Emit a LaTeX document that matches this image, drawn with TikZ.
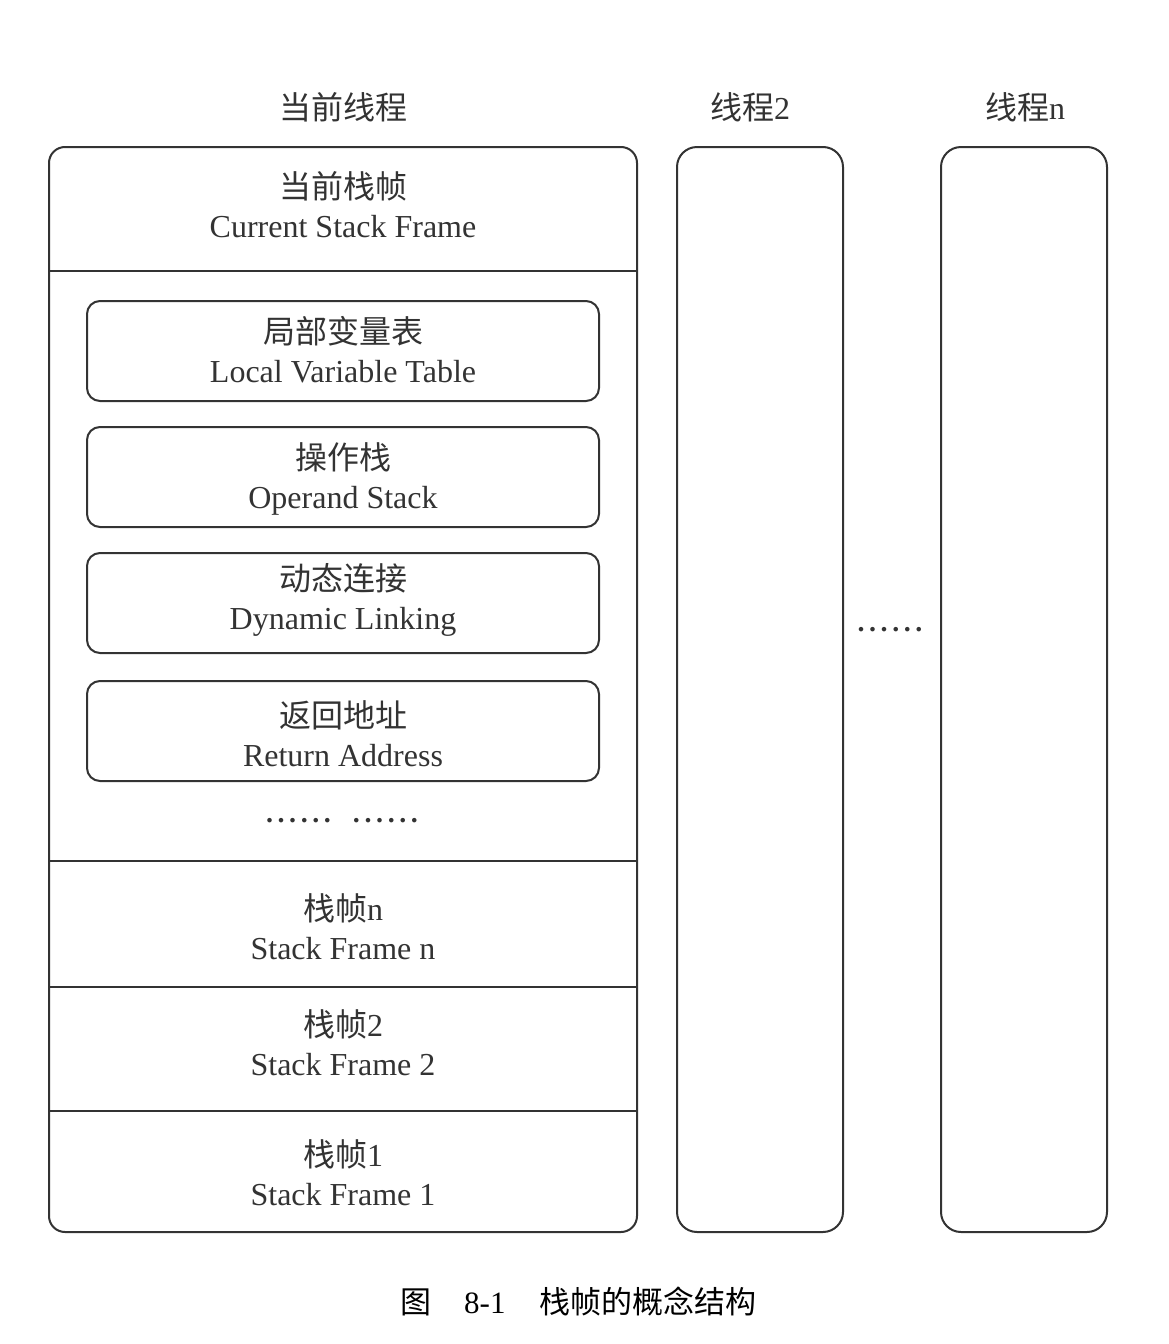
\documentclass[tikz,border=0pt]{standalone}
\usepackage{fontspec}
\setmainfont{Liberation Serif}
\newfontfamily\cjk{Noto Sans CJK SC}
\definecolor{ink}{HTML}{333333}
% a row of six spaced dots
\newcommand\sixdots{.\kern4.6pt.\kern4.6pt.\kern4.6pt.\kern4.6pt.\kern4.6pt.}
\begin{document}
\begin{tikzpicture}[x=1pt,y=-1pt,
  frame/.style={draw=ink,line width=2pt,rounded corners=16pt},
  inner/.style={draw=ink,line width=2pt,rounded corners=13pt},
  divider/.style={draw=ink,line width=2pt},
  label/.style={text=ink,align=center,font=\fontsize{32}{39}\selectfont,inner sep=0pt},
  title/.style={text=ink,font=\fontsize{32}{36}\selectfont,inner sep=0pt},
  dots/.style={text=ink,font=\fontsize{28}{30}\selectfont\bfseries,inner sep=0pt}]
\useasboundingbox (0,0) rectangle (1168,1344);
\fill[white] (0,0) rectangle (1168,1344);

% thread columns
\draw[frame] (49,147) rectangle (637,1232);
\draw[frame,rounded corners=20pt] (677,147) rectangle (843,1232);
\draw[frame,rounded corners=20pt] (941,147) rectangle (1107,1232);

% frame dividers of the current thread
\draw[divider] (49,271) -- (637,271);
\draw[divider] (49,861) -- (637,861);
\draw[divider] (49,987) -- (637,987);
\draw[divider] (49,1111) -- (637,1111);

% parts of the current stack frame
\draw[inner] (87,301) rectangle (599,401);
\draw[inner] (87,427) rectangle (599,527);
\draw[inner] (87,553) rectangle (599,653);
\draw[inner] (87,681) rectangle (599,781);

% column titles
\node[title] (t1) at (343,107) {\cjk 当前线程};
\node[title] (t2) at (750,107) {{\cjk 线程}2};
\node[title] (tn) at (1025,107) {{\cjk 线程}n};

% labels
\node[label] (cur) at (343,205) {{\cjk 当前栈帧}\\Current Stack Frame};
\node[label] (lvt) at (343,350) {{\cjk 局部变量表}\\Local Variable Table};
\node[label] (ops) at (343,479) {{\cjk 操作栈}\\Operand Stack};
\node[label] (dyn) at (343,600) {{\cjk 动态连接}\\Dynamic Linking};
\node[label] (ret) at (343,734) {{\cjk 返回地址}\\Return Address};
\node[label] (sfn) at (343,927) {{\cjk 栈帧}n\\Stack Frame n};
\node[label] (sf2) at (343,1043) {{\cjk 栈帧}2\\Stack Frame 2};
\node[label] (sf1) at (343,1173) {{\cjk 栈帧}1\\Stack Frame 1};

% ellipses
\node[dots] (more) at (342,821) {\sixdots\hspace{22pt}\sixdots};
\node[dots] (morethreads) at (890,630) {\sixdots};

% caption
\node[text=black,font=\fontsize{31}{36}\selectfont,inner sep=0pt,anchor=west] (cap) at (400,1301)
  {{\cjk 图}\hspace{33pt}8-1\hspace{34pt}{\cjk 栈帧的概念结构}};
\end{tikzpicture}
\end{document}
